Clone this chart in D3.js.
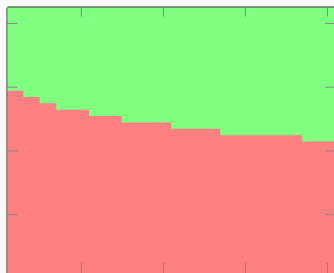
<!DOCTYPE html>
<html><head><meta charset="utf-8">
<script src="https://cdn.jsdelivr.net/npm/d3@7"></script>
<style>html,body{margin:0;padding:0;background:#fafafa;overflow:hidden}svg{display:block}</style>
</head><body>
<script>
// Data
const stepStarts = [0.1, 0.3, 0.5, 0.7, 1.1, 1.5, 2.1, 2.7, 3.7];
const redValues  = [58.75, 56.8, 54.8, 52.8, 50.8, 48.8, 46.8, 44.8, 42.8];
const xTickValues = [1, 2, 3, 4];
const yTickValues = [20, 40, 60, 80];
const xDomain = [0.1, 4.11];
const yDomain = [1.25, 85];

const W = 334, H = 273;
const pL = 7, pT = 7, pR = 336, pB = 274;

const svg = d3.select("body").append("svg").attr("width", W).attr("height", H);

const x = d3.scaleLinear().domain(xDomain).range([pL, pR]);
const y = d3.scaleLinear().domain(yDomain).range([pB, pT]);

// green background (upper region)
svg.append("rect").attr("x", pL).attr("y", pT)
  .attr("width", pR - pL).attr("height", pB - pT).attr("fill", "#80ff80");

const pts = stepStarts.map((s, i) => ({x: s, v: redValues[i]}));
pts.push({x: xDomain[1], v: redValues[redValues.length - 1]});

const area = d3.area().curve(d3.curveStepAfter)
  .x(d => x(d.x)).y0(y(yDomain[0])).y1(d => y(d.v));
svg.append("path").datum(pts).attr("d", area).attr("fill", "#ff8080");

function styleAxis(g, col, w) {
  g.selectAll(".tick line").attr("stroke", "#888").attr("stroke-width", 1);
  g.selectAll(".tick text").remove();
  g.select(".domain").attr("stroke", col).attr("stroke-width", w);
}

svg.append("g").attr("transform", `translate(0,${pT - 0.5})`)
  .call(d3.axisTop(x).tickValues(xTickValues).tickSizeInner(-10).tickSizeOuter(0).tickFormat(""))
  .call(g => styleAxis(g, "#333", 1.2));
svg.append("g").attr("transform", `translate(0,${pB})`)
  .call(d3.axisBottom(x).tickValues(xTickValues).tickSizeInner(-11).tickSizeOuter(0).tickFormat(""))
  .call(g => styleAxis(g, "#333", 1));
svg.append("g").attr("transform", `translate(${pL - 0.6},0)`)
  .call(d3.axisLeft(y).tickValues(yTickValues).tickSizeInner(-11).tickSizeOuter(0).tickFormat(""))
  .call(g => styleAxis(g, "#777", 1.4));
svg.append("g").attr("transform", `translate(${pR},0)`)
  .call(d3.axisRight(y).tickValues(yTickValues).tickSizeInner(-11).tickSizeOuter(0).tickFormat(""))
  .call(g => styleAxis(g, "#333", 1));
</script>
</body></html>
